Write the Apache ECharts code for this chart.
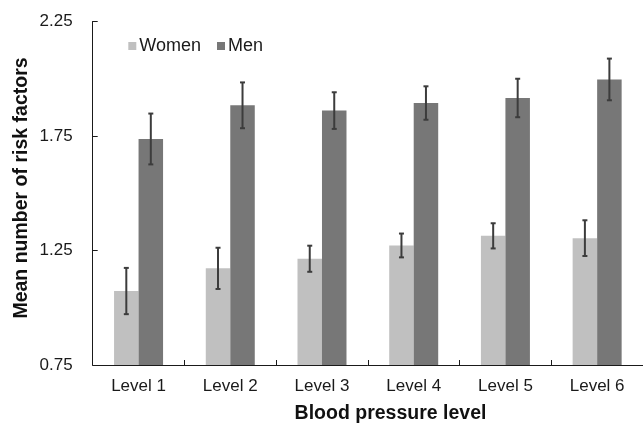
<!DOCTYPE html>
<html>
<head>
<meta charset="utf-8">
<script src="https://cdn.jsdelivr.net/npm/echarts@6/dist/echarts.min.js"></script>
<style>
html,body{margin:0;padding:0;background:#fff;}
#chart{width:643px;height:424px;}
</style>
</head>
<body>
<div id="chart"></div>
<script>
var categories = ['Level 1', 'Level 2', 'Level 3', 'Level 4', 'Level 5', 'Level 6'];
var womenValues = [1.073, 1.172, 1.214, 1.272, 1.314, 1.304];
var womenErrors = [0.101, 0.090, 0.057, 0.052, 0.055, 0.078];
var menValues = [1.737, 1.884, 1.861, 1.894, 1.916, 1.997];
var menErrors = [0.111, 0.100, 0.080, 0.073, 0.084, 0.091];
var yTicks = [0.75, 1.25, 1.75, 2.25];

var FONT = '"Liberation Sans", Arial, sans-serif';
var BAR_W = 24.5;
var WOMEN_COLOR = '#c0c0c0';
var MEN_COLOR = '#777777';
var ERR_COLOR = '#3c3c3c';

function errData(vals, errs) {
  return vals.map(function (v, i) { return [i, v - errs[i], v + errs[i]]; });
}

function errRender(offset) {
  return function (params, api) {
    var i = api.value(0);
    var lo = api.coord([i, api.value(1)]);
    var hi = api.coord([i, api.value(2)]);
    var x = lo[0] + offset;
    var cap = 2.5;
    var style = { stroke: ERR_COLOR, lineWidth: 2 };
    return {
      type: 'group',
      children: [
        { type: 'line', shape: { x1: x, y1: hi[1], x2: x, y2: lo[1] }, style: style },
        { type: 'line', shape: { x1: x - cap, y1: hi[1], x2: x + cap, y2: hi[1] }, style: style },
        { type: 'line', shape: { x1: x - cap, y1: lo[1], x2: x + cap, y2: lo[1] }, style: style }
      ]
    };
  };
}

var chart = echarts.init(document.getElementById('chart'), null, { renderer: 'canvas' });
chart.setOption({
  animation: false,
  backgroundColor: '#ffffff',
  textStyle: { fontFamily: FONT },
  grid: { left: 92.7, right: -5.5, top: 21.5, bottom: 59, containLabel: false },
  legend: {
    data: ['Women', 'Men'],
    left: 123.3,
    top: 32,
    icon: 'rect',
    itemWidth: 8,
    itemHeight: 8,
    itemGap: 16,
    textStyle: { fontFamily: FONT, fontSize: 18, color: '#1a1a1a', padding: [0, 0, 0, -2] }
  },
  xAxis: {
    type: 'category',
    data: categories,
    axisLine: { lineStyle: { color: '#1a1a1a', width: 1 } },
    axisTick: { show: true, inside: true, length: 5, lineStyle: { color: '#1a1a1a' } },
    axisLabel: { fontFamily: FONT, fontSize: 17, color: '#1a1a1a', margin: 13 },
    splitLine: { show: false }
  },
  yAxis: {
    type: 'value',
    min: yTicks[0],
    max: yTicks[yTicks.length - 1],
    interval: yTicks[1] - yTicks[0],
    axisLine: { show: true, lineStyle: { color: '#1a1a1a', width: 1 } },
    axisTick: { show: true, inside: true, length: 5, lineStyle: { color: '#1a1a1a' } },
    axisLabel: {
      fontFamily: FONT, fontSize: 17, color: '#1a1a1a', margin: 20,
      formatter: function (v) { return v.toFixed(2); }
    },
    splitLine: { show: false }
  },
  graphic: [
    {
      type: 'text',
      x: 22, y: 188, rotation: Math.PI / 2,
      style: {
        text: 'Mean number of risk factors',
        font: 'bold 19.5px ' + FONT,
        fill: '#111111',
        textAlign: 'center',
        textVerticalAlign: 'middle'
      }
    },
    {
      type: 'text',
      x: 390.5, y: 414,
      style: {
        text: 'Blood pressure level',
        font: 'bold 19.5px ' + FONT,
        fill: '#111111',
        textAlign: 'center',
        textVerticalAlign: 'middle'
      }
    }
  ],
  series: [
    {
      name: 'Women', type: 'bar', data: womenValues,
      barWidth: BAR_W, barGap: '0%',
      itemStyle: { color: WOMEN_COLOR }
    },
    {
      name: 'Men', type: 'bar', data: menValues,
      barWidth: BAR_W, barGap: '0%',
      itemStyle: { color: MEN_COLOR }
    },
    {
      name: 'WomenErr', type: 'custom', data: errData(womenValues, womenErrors),
      renderItem: errRender(-BAR_W / 2), z: 5,
      encode: { x: 0, y: [1, 2] }
    },
    {
      name: 'MenErr', type: 'custom', data: errData(menValues, menErrors),
      renderItem: errRender(BAR_W / 2), z: 5,
      encode: { x: 0, y: [1, 2] }
    }
  ]
});
</script>
</body>
</html>
